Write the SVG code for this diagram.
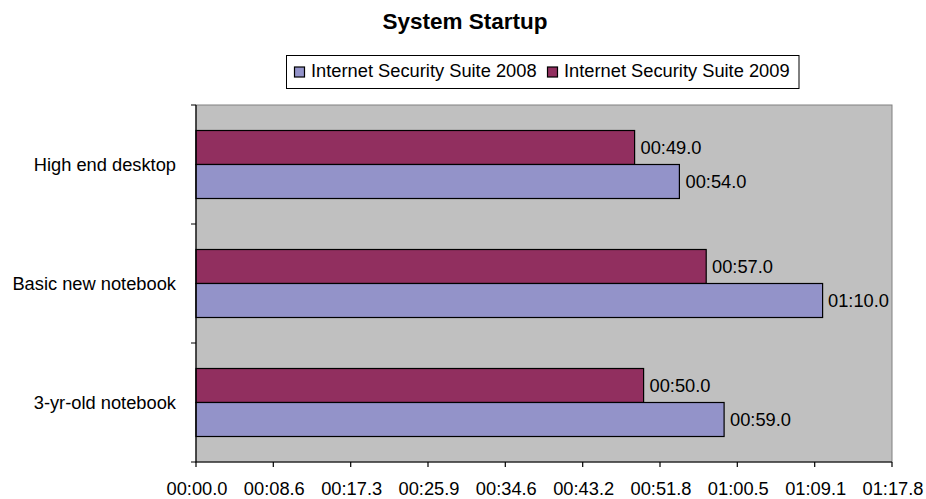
<svg xmlns="http://www.w3.org/2000/svg" width="926" height="499" viewBox="0 0 926 499">
  <style>
    text { font-family: "Liberation Sans", Arial, sans-serif; fill: #000; }
    .title { font-size: 22.5px; font-weight: bold; text-anchor: middle; }
    .lbl { font-size: 18.3px; }
    .cat { font-size: 18.3px; text-anchor: end; }
    .tick { font-size: 18.3px; text-anchor: middle; }
    .s2008 { fill: #9393C9; stroke: #000; stroke-width: 1.2; }
    .s2009 { fill: #912F5F; stroke: #000; stroke-width: 1.2; }
    .axis { stroke: #000; stroke-width: 1.2; fill: none; }
  </style>

  <rect width="926" height="499" fill="#fff"/>

  <!-- Title -->
  <g id="title">
    <text class="title" x="465" y="28.5">System Startup</text>
  </g>

  <!-- Legend -->
  <g id="legend">
    <rect x="286.5" y="55.5" width="512.5" height="33" fill="#fff" stroke="#000" stroke-width="1"/>
    <rect class="s2008" x="294.5" y="67" width="10" height="10"/>
    <text class="lbl" x="311" y="77">Internet Security Suite 2008</text>
    <rect class="s2009" x="547.5" y="67" width="10" height="10"/>
    <text class="lbl" x="564" y="77">Internet Security Suite 2009</text>
  </g>

  <!-- Plot area -->
  <g id="plot-area">
    <rect x="196" y="105" width="696" height="357" fill="#C0C0C0" stroke="#808080" stroke-width="1"/>
  </g>

  <!-- Bars: 8.951 px per second -->
  <g id="high-end-desktop">
    <rect class="s2009" x="196" y="130.5" width="438.6" height="34"/>
    <rect class="s2008" x="196" y="164.5" width="483.4" height="34"/>
    <text class="lbl" x="640.5" y="154">00:49.0</text>
    <text class="lbl" x="685.5" y="188">00:54.0</text>
    <text class="cat" x="176" y="171">High end desktop</text>
  </g>

  <g id="basic-new-notebook">
    <rect class="s2009" x="196" y="249.5" width="510.2" height="34"/>
    <rect class="s2008" x="196" y="283.5" width="626.6" height="34"/>
    <text class="lbl" x="712" y="273">00:57.0</text>
    <text class="lbl" x="828" y="307">01:10.0</text>
    <text class="cat" x="176" y="290">Basic new notebook</text>
  </g>

  <g id="three-yr-old-notebook">
    <rect class="s2009" x="196" y="368.5" width="447.6" height="34"/>
    <rect class="s2008" x="196" y="402.5" width="528.1" height="34"/>
    <text class="lbl" x="649.5" y="392">00:50.0</text>
    <text class="lbl" x="730" y="426">00:59.0</text>
    <text class="cat" x="176" y="409">3-yr-old notebook</text>
  </g>

  <!-- Axes and tick marks -->
  <g id="axes">
    <path class="axis" d="M196 105 V462 H892"/>
    <path class="axis" d="M191 105 H196 M191 224 H196 M191 343 H196 M191 462 H196"/>
    <path class="axis" d="M196 462 V467 M273.3 462 V467 M350.7 462 V467 M428 462 V467 M505.3 462 V467 M582.7 462 V467 M660 462 V467 M737.3 462 V467 M814.7 462 V467 M892 462 V467"/>
  </g>

  <g id="x-axis-labels">
    <text class="tick" x="197" y="495">00:00.0</text>
    <text class="tick" x="274.3" y="495">00:08.6</text>
    <text class="tick" x="351.7" y="495">00:17.3</text>
    <text class="tick" x="429" y="495">00:25.9</text>
    <text class="tick" x="506.3" y="495">00:34.6</text>
    <text class="tick" x="583.7" y="495">00:43.2</text>
    <text class="tick" x="661" y="495">00:51.8</text>
    <text class="tick" x="738.3" y="495">01:00.5</text>
    <text class="tick" x="815.7" y="495">01:09.1</text>
    <text class="tick" x="893" y="495">01:17.8</text>
  </g>
</svg>
